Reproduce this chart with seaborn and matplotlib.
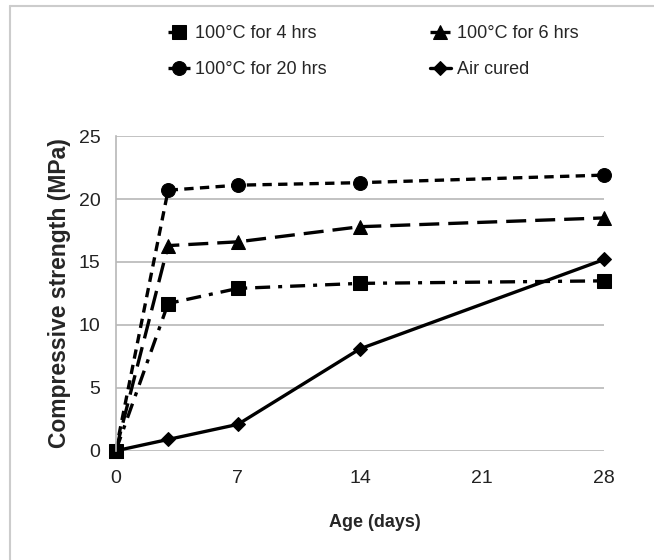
import matplotlib
matplotlib.use("Agg")
import numpy as np
import pandas as pd
import matplotlib.pyplot as plt
import seaborn as sns
from matplotlib.lines import Line2D

# Values
age_days = [0, 3, 7, 14, 28]
cured_4h = [0, 11.7, 12.9, 13.3, 13.5]
cured_6h = [0, 16.3, 16.6, 17.8, 18.5]
cured_20h = [0, 20.7, 21.1, 21.3, 21.9]
air_cured = [0, 0.9, 2.1, 8.1, 15.2]

series_names = ["100\u00b0C for 4 hrs", "100\u00b0C for 6 hrs",
                "100\u00b0C for 20 hrs", "Air cured"]
x_ticks = [0, 7, 14, 21, 28]
y_ticks = [0, 5, 10, 15, 20, 25]

line_styles = {
    series_names[0]: dict(linestyle=(0, (4.5, 2.4, 1.2, 2.4)), marker="s", markersize=10),
    series_names[1]: dict(linestyle=(0, (6, 2.7)), marker="^", markersize=10),
    series_names[2]: dict(linestyle=(0, (2.8, 1.9)), marker="o", markersize=10),
    series_names[3]: dict(linestyle="-", marker="D", markersize=7),
}


def main():
    sns.set_theme(style="white")
    plt.rcParams['font.family'] = ['Liberation Sans', 'DejaVu Sans']

    df = pd.DataFrame({
        "Age (days)": age_days * 4,
        "Strength": cured_4h + cured_6h + cured_20h + air_cured,
        "Series": np.repeat(series_names, len(age_days)),
    })

    fig = plt.figure(figsize=(6.54, 5.6), dpi=100)
    ax = fig.add_axes([0.177, 0.195, 0.747, 0.562])

    for name in series_names:
        sub = df[df["Series"] == name]
        sns.lineplot(data=sub, x="Age (days)", y="Strength", ax=ax,
                     color="black", linewidth=2.4, label=name,
                     markeredgecolor="black", **line_styles[name])

    ax.set_xlim(0, 28)
    ax.set_ylim(0, 25)
    ax.set_xticks(x_ticks)
    ax.set_yticks(y_ticks)
    ax.yaxis.grid(True, color="#b8b8b8", linewidth=1.2)
    ax.xaxis.grid(False)
    for side in ["top", "right", "bottom"]:
        ax.spines[side].set_visible(False)
    ax.spines["left"].set_color("#b8b8b8")
    ax.spines["left"].set_linewidth(1.2)
    ax.tick_params(axis="both", length=0, labelsize=14, colors="#222222")
    ax.tick_params(axis="x", pad=14)
    ax.tick_params(axis="y", pad=11)
    ax.set_xlabel("Age (days)", fontsize=13, fontweight="bold", labelpad=12)
    ax.xaxis.set_label_coords(0.53, -0.2)
    ax.set_ylabel("Compressive strength (MPa)", fontsize=16.5, fontweight="bold")
    ax.yaxis.set_label_coords(-0.092, 0.5)

    for line in ax.lines:
        line.set_clip_on(False)

    handles, labels = ax.get_legend_handles_labels()
    # column-wise order: 4h, 20h | 6h, air
    order = [0, 2, 1, 3]
    ax.legend([handles[i] for i in order], [labels[i] for i in order],
              ncol=2, loc="upper left", bbox_to_anchor=(0.243, 0.971),
              bbox_transform=fig.transFigure, frameon=False, fontsize=13,
              handlelength=1.2, handletextpad=0.3, columnspacing=5.7,
              labelspacing=1.05, borderpad=0)

    # partial frame around the figure (top and left edges)
    fig.add_artist(Line2D([0.016, 1.0], [0.989, 0.989], color="#cccccc", linewidth=1.5))
    fig.add_artist(Line2D([0.016, 0.016], [0.0, 0.989], color="#cccccc", linewidth=1.5))

    fig.savefig("out.png", dpi=100, facecolor="white")


if __name__ == "__main__":
    main()
